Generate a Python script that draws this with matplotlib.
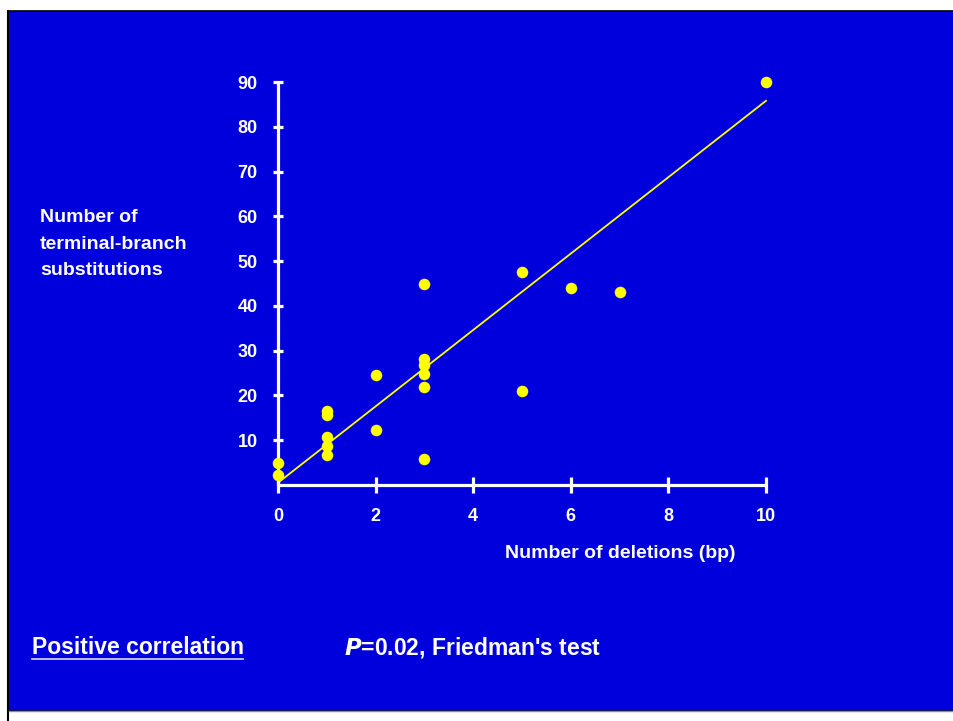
import matplotlib
matplotlib.use("Agg")
import matplotlib.pyplot as plt
from matplotlib.patches import Rectangle
from matplotlib.lines import Line2D

# ---- data ----
deletions = [0, 0, 1, 1, 1, 1, 1, 2, 2, 3, 3, 3, 3, 3, 3, 5, 5, 6, 7, 10]
substitutions = [4.9, 2.3, 16.6, 15.7, 10.8, 8.7, 6.7, 24.6, 12.3,
                 45.0, 28.2, 26.9, 24.8, 21.9, 5.8, 47.5, 21.0, 44.0, 43.0, 90.0]
fit_x = [0, 10]
fit_y = [0.5, 85.8]
x_ticks = [0, 2, 4, 6, 8, 10]
y_ticks = [10, 20, 30, 40, 50, 60, 70, 80, 90]

BLUE = "#0000DC"
W, H = 954, 721
fig = plt.figure(figsize=(W / 100, H / 100), dpi=100, facecolor="white")

# background panel
fig.patches.append(Rectangle((8 / W, (H - 711) / H), (W - 8) / W + 0.01, (711 - 11) / H,
                             transform=fig.transFigure, facecolor=BLUE,
                             edgecolor="black", linewidth=1.2, zorder=-10))
fig.lines.append(Line2D([8 / W, 8 / W], [0, 1 - 11 / H], transform=fig.transFigure,
                        color="black", linewidth=1.5, zorder=-9))
fig.lines.append(Line2D([9 / W, 1], [(H - 711) / H] * 2, transform=fig.transFigure,
                        color="#8080F0", linewidth=1.0, zorder=-9))

# axes placed so that x 0..10 -> px 278..766 and y 0..90 -> px 485..82
xpu = (766 - 278) / 10
ypu = (485 - 82) / 90
x0, x1 = -0.6, 10.6
y0, y1 = -5, 95
left = (278 + x0 * xpu) / W
width = (x1 - x0) * xpu / W
bottom = 1 - (485 - y0 * ypu) / H
height = (y1 - y0) * ypu / H
ax = fig.add_axes([left, bottom, width, height])
ax.set_zorder(5)
ax.set_facecolor("none")
ax.set_xlim(x0, x1)
ax.set_ylim(y0, y1)

for s in ["top", "right"]:
    ax.spines[s].set_visible(False)
ax.spines["left"].set_position(("data", 0))
ax.spines["bottom"].set_position(("data", 0))
ax.spines["left"].set_bounds(0, 90)
ax.spines["bottom"].set_bounds(0, 10)
for s in ["left", "bottom"]:
    ax.spines[s].set_color("white")
    ax.spines[s].set_linewidth(2.3)
    ax.spines[s].set_capstyle("butt")

tick_font = dict(family=["Liberation Sans", "DejaVu Sans"], weight="bold", size=13)
ax.set_xticks(x_ticks)
ax.set_xticklabels([str(v) for v in x_ticks], color="white", **tick_font)
ax.set_yticks(y_ticks)
ax.set_yticklabels([str(v) for v in y_ticks], color="white", **tick_font)
ax.tick_params(axis="x", direction="inout", length=11.5, width=2.3, colors="white", pad=10.5)
ax.tick_params(axis="y", direction="inout", length=7.5, width=2.3, colors="white", pad=11)

ax.plot(fit_x, fit_y, color="#FFFF00", linewidth=1.3, zorder=2)
ax.plot(deletions, substitutions, linestyle="none", marker="o", markersize=8.3,
        markerfacecolor="#FFFF00", markeredgecolor="none", zorder=3)

lab_font = dict(family=["Liberation Sans", "DejaVu Sans"], weight="bold", size=14, color="white")
fig.text(505 / W, 1 - 553 / H, "Number of deletions (bp)", ha="left", va="center", **lab_font)
fig.text(40 / W, 1 - 218 / H, "Number of", ha="left", va="center", **lab_font)
fig.text(40 / W, 1 - 244 / H, "terminal-branch", ha="left", va="center", **lab_font)
fig.text(40 / W, 1 - 270 / H, "substitutions", ha="left", va="center", **lab_font)

big_font = dict(family=["Liberation Sans", "DejaVu Sans"],
                weight="bold", size=16.5, color="white")
fig.text(32 / W, 1 - 648 / H, "Positive correlation", ha="left", va="center", **big_font)
fig.lines.append(Line2D([32 / W, 243 / W], [1 - 659 / H] * 2, transform=fig.transFigure,
                        color="#C8C8FF", linewidth=1.3))
fig.text(344 / W, 1 - 648 / H, r"$\mathbfit{P}$=0.02, Friedman's test", ha="left",
         va="center", **big_font)

fig.savefig("out.png", dpi=100, facecolor="white")
